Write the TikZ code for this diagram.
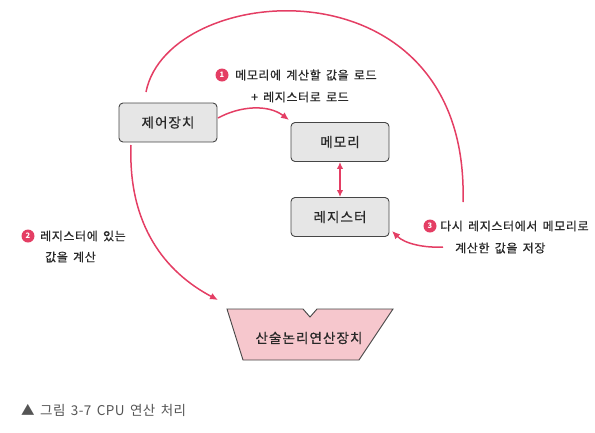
\documentclass[tikz,border=0pt]{standalone}
\usepackage{fontspec}
\setmainfont{Noto Sans CJK KR}
\newfontfamily\lblfont[LetterSpace=5,WordSpace=1.6,FakeBold=0.6]{Noto Sans CJK KR}
\newfontfamily\boxfont[LetterSpace=8,FakeBold=0.8]{Noto Sans CJK KR}
\newfontfamily\capfont[LetterSpace=3,WordSpace=1.6]{Noto Sans CJK KR}
\usetikzlibrary{arrows.meta}
\definecolor{pinkline}{RGB}{228,62,100}
\definecolor{boxfill}{RGB}{230,230,230}
\definecolor{boxdraw}{RGB}{70,70,70}
\definecolor{alufill}{RGB}{246,199,205}
\definecolor{txt}{RGB}{40,40,40}
\definecolor{captxt}{RGB}{85,85,85}
\tikzset{
  unitbox/.style={draw=boxdraw, fill=boxfill, line width=0.9pt, rounded corners=4pt,
    minimum width=98pt, minimum height=39pt, inner sep=0pt, text=txt,
    font=\boxfont\fontsize{13.5}{15}\selectfont},
  conn/.style={draw=pinkline, line width=1.5pt},
  arr/.style={conn, -{Latex[length=8pt,width=7pt]}},
  darr/.style={conn, {Latex[length=7pt,width=6.5pt]}-{Latex[length=7pt,width=6.5pt]}},
  badge/.style={circle, fill=pinkline, minimum size=13pt, inner sep=0pt, text=white,
    font=\fontsize{7.5}{8}\selectfont\bfseries},
  lbl/.style={anchor=west, inner sep=0pt, text=txt, font=\lblfont\fontsize{12}{14}\selectfont},
}
\begin{document}
\begin{tikzpicture}[x=1pt,y=-1pt]
\useasboundingbox (0,0) rectangle (595,432);
% boxes
\node[unitbox] (ctrl) at (168,122.5) {제어장치};
\node[unitbox] (mem) at (340,142) {메모리};
\node[unitbox] (reg) at (340,217) {레지스터};
% ALU shape
\draw[draw=boxdraw, fill=alufill, line width=0.9pt]
  (227,309) -- (303,309) -- (310,317) -- (317,309) -- (393,309)
  -- (359,360) -- (243,360) -- cycle;
\node[inner sep=0pt, text=txt, font=\boxfont\fontsize{13.5}{15}\selectfont] (alu) at (309,338) {산술논리연산장치};
\coordinate (alutl) at (218,300);
% connectors
\coordinate (arcstart) at (146,92);
\coordinate (arcend) at (463,202);
\draw[conn] (arcstart) .. controls (168,-20) and (470,-44) .. (arcend);
\coordinate (c1) at (218,118);
\coordinate (m1) at (289,120);
\draw[arr] (c1) .. controls (240,106) and (268,104) .. (m1);
\draw[darr] (mem.south) -- (reg.north);
\coordinate (c2) at (131,145);
\draw[arr] (c2) .. controls (128,225) and (165,272) .. (alutl);
\coordinate (l3) at (443,247);
\coordinate (r1) at (392,231);
\draw[arr] (l3) .. controls (425,248) and (405,244) .. (r1);
% labels
\node[badge] (b1) at (222,75) {1};
\node[lbl] (t1a) at (235,75) {메모리에 계산할 값을 로드};
\node[lbl, anchor=center] (t1b) at (300,97) {+ 레지스터로 로드};
\node[badge] (b2) at (28,236) {2};
\node[lbl] (t2a) at (40,236) {레지스터에 있는};
\node[lbl] (t2b) at (45,257) {값을 계산};
\node[badge] (b3) at (430,226) {3};
\node[lbl] (t3a) at (440,226) {다시 레지스터에서 메모리로};
\node[lbl] (t3b) at (455,248) {계산한 값을 저장};
% caption
\node[anchor=west, inner sep=0pt, text=captxt, font=\capfont\fontsize{13.5}{15}\selectfont] (cap) at (21,410) {▲ 그림 3-7 CPU 연산 처리};
\end{tikzpicture}
\end{document}
